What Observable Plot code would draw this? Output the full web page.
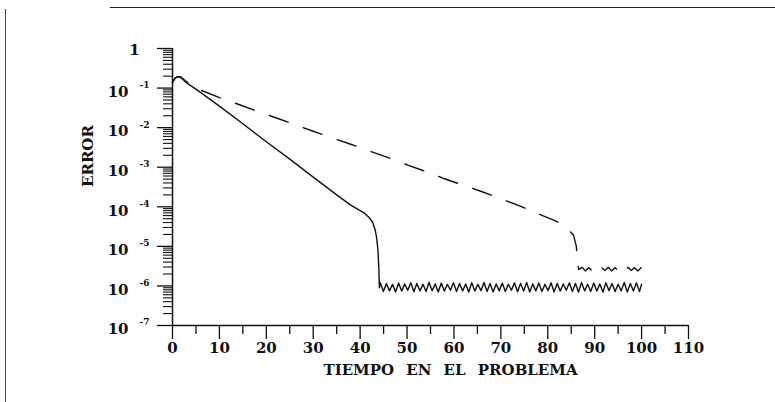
<!DOCTYPE html>
<html>
<head>
<meta charset="utf-8">
<script src="https://cdn.jsdelivr.net/npm/d3@7"></script>
<script src="https://cdn.jsdelivr.net/npm/@observablehq/plot@0.6"></script>
<style>
  html, body { margin: 0; padding: 0; background: #fff; }
  #wrap { position: relative; width: 775px; height: 402px; overflow: hidden; }
  #lborder { position: absolute; left: 5px; top: 9px; width: 0; height: 393px; border-left: 1px solid #444; }
  #tborder { position: absolute; left: 110px; top: 7px; width: 665px; height: 0; border-top: 1.5px solid #222; }
  svg text { word-spacing: 7px; }
</style>
</head>
<body>
<div id="wrap">
  <div id="lborder"></div>
  <div id="tborder"></div>
  <div id="chart"></div>
</div>
<script>
// ---- data ----
const solidT = [0, 0.6, 1.2, 1.8, 3, 5, 10, 15, 20, 25, 30, 35, 38, 40, 41, 42, 42.7, 43.2, 43.5, 43.8, 44.0, 44.1,
  44.3, 44.95, 45.6, 46.25, 46.9, 47.55, 48.2, 48.85, 49.5, 50.15,
  50.8, 51.45, 52.1, 52.75, 53.4, 54.05, 54.7, 55.35, 56.0, 56.65,
  57.3, 57.95, 58.6, 59.25, 59.9, 60.55, 61.2, 61.85, 62.5, 63.15,
  63.8, 64.45, 65.1, 65.75, 66.4, 67.05, 67.7, 68.35, 69.0, 69.65,
  70.3, 70.95, 71.6, 72.25, 72.9, 73.55, 74.2, 74.85, 75.5, 76.15,
  76.8, 77.45, 78.1, 78.75, 79.4, 80.05, 80.7, 81.35, 82.0, 82.65,
  83.3, 83.95, 84.6, 85.25, 85.9, 86.55, 87.2, 87.85, 88.5, 89.15,
  89.8, 90.45, 91.1, 91.75, 92.4, 93.05, 93.7, 94.35, 95.0, 95.65,
  96.3, 96.95, 97.6, 98.25, 98.9, 99.55, 100.0];
const solidE = [1.4e-1, 1.8e-1, 1.95e-1, 1.85e-1, 1.35e-1, 9.4e-2, 3.5e-2, 1.25e-2, 4.4e-3, 1.6e-3, 5.6e-4, 2.0e-4, 1.1e-4, 8.0e-5, 6.8e-5, 5.2e-5, 4.0e-5, 2.6e-5, 1.7e-5, 8e-6, 2.5e-6, 9e-7,
  1.2e-6, 7.2e-7, 1.15e-6, 7.5e-7, 1.1e-6, 7.0e-7, 1.18e-6, 7.4e-7, 1.12e-6, 7.8e-7,
  1.2e-6, 7.1e-7, 1.15e-6, 7.5e-7, 1.1e-6, 7.2e-7, 1.22e-6, 7.6e-7, 1.12e-6, 7.0e-7,
  1.18e-6, 7.4e-7, 1.1e-6, 7.8e-7, 1.2e-6, 7.2e-7, 1.15e-6, 7.5e-7, 1.12e-6, 7.0e-7,
  1.2e-6, 7.4e-7, 1.1e-6, 7.6e-7, 1.22e-6, 7.2e-7, 1.15e-6, 7.0e-7, 1.12e-6, 7.5e-7,
  1.18e-6, 7.2e-7, 1.1e-6, 7.8e-7, 1.2e-6, 7.1e-7, 1.15e-6, 7.4e-7, 1.22e-6, 7.0e-7,
  1.12e-6, 7.5e-7, 1.18e-6, 7.2e-7, 1.1e-6, 7.6e-7, 1.2e-6, 7.0e-7, 1.15e-6, 7.4e-7,
  1.12e-6, 7.8e-7, 1.2e-6, 7.2e-7, 1.15e-6, 7.0e-7, 1.22e-6, 7.5e-7, 1.1e-6, 7.2e-7,
  1.18e-6, 7.4e-7, 1.12e-6, 7.0e-7, 1.2e-6, 7.6e-7, 1.15e-6, 7.2e-7, 1.1e-6, 7.5e-7,
  1.22e-6, 7.0e-7, 1.15e-6, 7.4e-7, 1.2e-6, 7.2e-7, 1.1e-6];

const dashT = [0, 0.6, 1.2, 1.8, 3, 6, 10, 14, 18, 22, 26, 30, 34, 38, 42, 46, 50, 54, 58, 62, 66, 70, 74, 78, 82, 84, 85.5, 86.1, 86.3, 86.6,
  87.3, 88.0, 88.7, 89.4, 90.1, 90.8, 91.5, 92.2, 92.9, 93.6, 94.3, 95.0, 95.7, 96.4, 97.1, 97.8, 98.5, 99.2, 99.9];
const dashE = [1.4e-1, 1.8e-1, 1.95e-1, 1.9e-1, 1.45e-1, 8.9e-2, 5.75e-2, 3.9e-2, 2.6e-2, 1.78e-2, 1.2e-2, 8.1e-3, 5.5e-3, 3.8e-3, 2.57e-3, 1.74e-3, 1.15e-3, 7.8e-4, 5.1e-4, 3.5e-4, 2.4e-4, 1.6e-4, 1.05e-4, 6.6e-5, 4.2e-5, 3.0e-5, 1.9e-5, 1.0e-5, 4.0e-6, 2.6e-6,
  2.95e-6, 2.4e-6, 2.9e-6, 2.45e-6, 3.0e-6, 2.4e-6, 2.9e-6, 2.45e-6, 2.95e-6, 2.4e-6, 2.9e-6, 2.45e-6, 3.0e-6, 2.4e-6, 2.95e-6, 2.45e-6, 2.9e-6, 2.4e-6, 2.9e-6];

const xMajorTicks = [0, 10, 20, 30, 40, 50, 60, 70, 80, 90, 100, 110];
const xMinorTicks = [5, 15, 25, 35, 45, 55, 65, 75, 85, 95, 105];
const yMajorTicks = [1, 1e-1, 1e-2, 1e-3, 1e-4, 1e-5, 1e-6, 1e-7];
const yExpTicks = [1e-1, 1e-2, 1e-3, 1e-4, 1e-5, 1e-6, 1e-7];
const yExpLabels = ["-1", "-2", "-3", "-4", "-5", "-6", "-7"];
const yMinorTicks = [];
for (const d of [1e-7, 1e-6, 1e-5, 1e-4, 1e-3, 1e-2, 1e-1]) for (const m of [2,3,4,5,6,7,8,9]) yMinorTicks.push(m * d);
const xTitle = "TIEMPO EN EL PROBLEMA";
const yTitle = "ERROR";

const solid = solidT.map((t, i) => ({t, e: solidE[i]}));
const dashed = dashT.map((t, i) => ({t, e: dashE[i]}));

const ink = "#111";
const chart = Plot.plot({
  width: 775,
  height: 402,
  marginLeft: 172,
  marginRight: 87,
  marginTop: 48,
  marginBottom: 77,
  x: {domain: [0, 110]},
  y: {type: "log", domain: [1e-7, 1]},
  style: {fontFamily: "DejaVu Serif", fontWeight: "bold", fontSize: "15px", color: ink, background: "transparent"},
  marks: [
    Plot.axisX({ticks: xMajorTicks, tickSize: 14, tickFormat: () => "", label: null, anchor: "bottom", stroke: ink, strokeWidth: 1.3}),
    Plot.axisX({ticks: xMinorTicks, tickSize: 9, tickFormat: () => "", label: null, anchor: "bottom", stroke: ink, strokeWidth: 1.3}),
    Plot.axisY({ticks: yMajorTicks, tickSize: 15, tickFormat: () => "", label: null, anchor: "left", stroke: ink, strokeWidth: 1.3}),
    Plot.axisY({ticks: yMinorTicks, tickSize: 9, tickFormat: () => "", label: null, anchor: "left", stroke: ink, strokeWidth: 1.1}),
    Plot.ruleY([1e-7], {stroke: ink, strokeWidth: 1.5}),
    Plot.ruleX([0], {stroke: ink, strokeWidth: 1.5}),
    Plot.text(xMajorTicks, {x: d => d, frameAnchor: "bottom", dy: 27, text: d => String(d), fontSize: 15, fill: ink}),
    Plot.text(yExpTicks, {y: d => d, frameAnchor: "left", dx: -44, dy: 4, text: () => "10", textAnchor: "end", fontSize: 15, fill: ink}),
    Plot.text(yExpLabels, {y: (d, i) => yExpTicks[i], frameAnchor: "left", dx: -23, dy: -3, text: d => d, textAnchor: "end", fontSize: 9, fill: ink}),
    Plot.text([1], {y: d => d, frameAnchor: "left", dx: -38, dy: 2, text: () => "1", textAnchor: "middle", fontSize: 15, fill: ink}),
    Plot.text([yTitle], {frameAnchor: "left", dx: -84, rotate: -90, text: d => d, fontSize: 15, fill: ink}),
    Plot.text([xTitle], {frameAnchor: "bottom", dx: 20, dy: 49, text: d => d, fontSize: 15, fill: ink}),
    Plot.line(solid, {x: "t", y: "e", stroke: ink, strokeWidth: 1.4}),
    Plot.line(dashed, {x: "t", y: "e", stroke: ink, strokeWidth: 1.4, strokeDasharray: "20,16"})
  ]
});
document.getElementById("chart").appendChild(chart);
</script>
</body>
</html>
